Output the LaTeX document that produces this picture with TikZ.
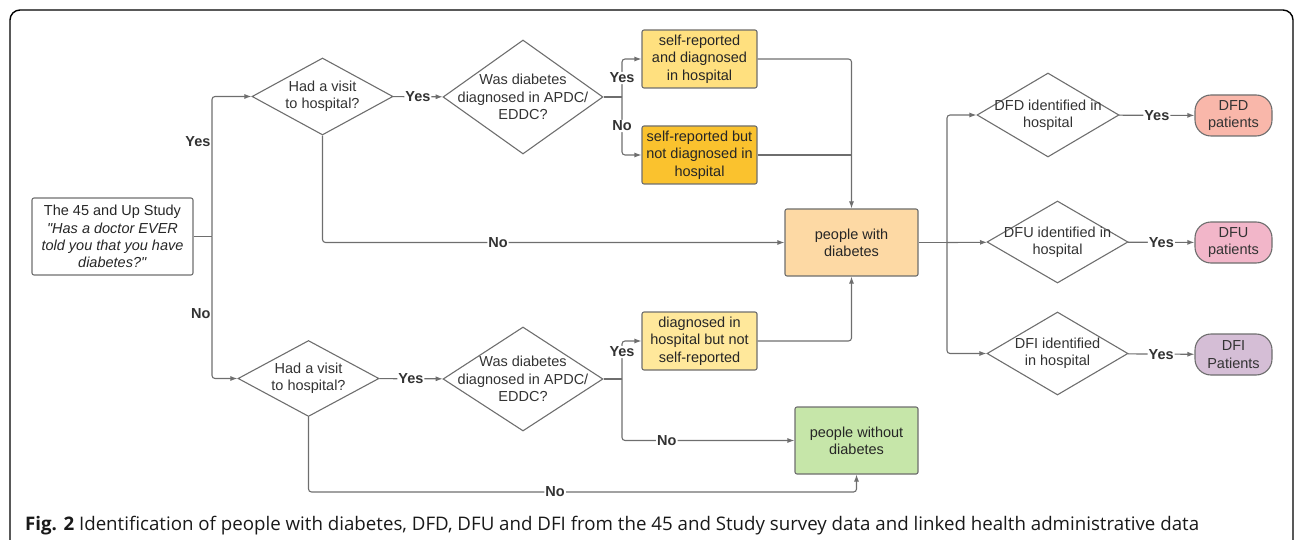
\documentclass[tikz,border=0pt]{standalone}
\usepackage{fontspec}
\setmainfont{Liberation Sans}
\newfontfamily\capfont{Open Sans}
\usetikzlibrary{shapes.geometric, arrows.meta, positioning}

\definecolor{linegray}{HTML}{6E6E6E}
\definecolor{txtgray}{HTML}{333333}
\definecolor{ylwA}{HTML}{FFE07F}
\definecolor{ylwB}{HTML}{FAC22E}
\definecolor{ylwC}{HTML}{FFE89B}
\definecolor{orgA}{HTML}{FDD9A4}
\definecolor{grnA}{HTML}{C6E6A9}
\definecolor{redA}{HTML}{F9B7AA}
\definecolor{pnkA}{HTML}{F2B6C9}
\definecolor{prpA}{HTML}{D5BED6}

\newcommand{\dfont}{\fontsize{14.5}{17.3}\selectfont}

\tikzset{
  box/.style={draw=linegray, line width=1.1pt, rounded corners=2pt, align=center, inner sep=0pt, text=black!85},
  dia/.style={diamond, draw=linegray, line width=1.1pt, inner sep=0pt},
  dtxt/.style={align=center, text=txtgray},
  term/.style={draw=linegray, line width=1.1pt, rounded corners=16pt, align=center, inner sep=0pt,
    minimum width=77, minimum height=41, text=txtgray},
  ln/.style={draw=linegray, line width=1.1pt, rounded corners=3pt},
  arr/.style={ln, -{Latex[length=7pt, width=5pt]}},
  yn/.style={fill=white, inner sep=1pt, font=\dfont\bfseries, text=txtgray}
}

\begin{document}
\begin{tikzpicture}[x=1pt, y=-1pt, font=\dfont]
  \useasboundingbox (0,0) rectangle (1295,540);
  \clip (0,0) rectangle (1295,540);
  \draw[line width=1.4pt, rounded corners=10pt] (10,570) -- (10,10) -- (1293,10) -- (1293,570);

  % start
  \node[box, minimum width=161, minimum height=77] (study) at (112.5,236.5)
    {The 45 and Up Study\\\textit{\textquotedbl Has a doctor EVER}\\\textit{told you that you have}\\\textit{diabetes?\textquotedbl}};

  % upper branch
  \node[dia, minimum width=141, minimum height=77, label={[dtxt]center:Had a visit\\to hospital?}] (visit1) at (322.5,96.5) {};
  \node[dia, minimum width=160, minimum height=114, label={[dtxt]center:Was diabetes\\diagnosed in APDC/\\EDDC?}] (diag1) at (523,97) {};
  \node[box, fill=ylwA, minimum width=115, minimum height=58] (srd) at (699.5,59) {self-reported\\and diagnosed\\in hospital};
  \node[box, fill=ylwB, minimum width=115, minimum height=58] (srn) at (699.5,155) {self-reported but\\not diagnosed in\\hospital};
  \node[box, fill=orgA, minimum width=133, minimum height=67] (pwd) at (851.5,242.5) {people with\\diabetes};

  % lower branch
  \node[dia, minimum width=141, minimum height=76, label={[dtxt]center:Had a visit\\to hospital?}] (visit2) at (308.5,378.5) {};
  \node[dia, minimum width=160, minimum height=104, label={[dtxt]center:Was diabetes\\diagnosed in APDC/\\EDDC?}] (diag2) at (523,379) {};
  \node[box, fill=ylwC, minimum width=115, minimum height=58] (dns) at (699.5,341) {diagnosed in\\hospital but not\\self-reported};
  \node[box, fill=grnA, minimum width=123, minimum height=67] (pwod) at (856.5,440.5) {people without\\diabetes};

  % outcomes
  \node[dia, minimum width=142, minimum height=84, label={[dtxt]center:DFD identified in\\hospital}] (dfd) at (1048,115) {};
  \node[dia, minimum width=141, minimum height=82, label={[dtxt]center:DFU identified in\\hospital}] (dfu) at (1057.5,242) {};
  \node[dia, minimum width=141, minimum height=83, label={[dtxt]center:DFI identified\\in hospital}] (dfi) at (1057.5,353.5) {};
  \node[term, fill=redA] (dfdp) at (1233.5,115.5) {DFD\\patients};
  \node[term, fill=pnkA] (dfup) at (1233.5,242.5) {DFU\\patients};
  \node[term, fill=prpA] (dfip) at (1233.5,354.5) {DFI\\Patients};

  % junctions
  \coordinate (jA) at (212,236.5);
  \coordinate (jB) at (622,97);
  \coordinate (jC) at (851.5,155);
  \coordinate (jD) at (947,242.5);
  \coordinate (jE) at (622,379);
  \coordinate (jF) at (856.5,492);

  \draw[ln] (study) -- (jA);
  \draw[arr] (jA) |- node[yn, left, pos=0.34, fill=none] {Yes} (visit1);
  \draw[arr] (jA) |- node[yn, left, pos=0.27, fill=none] {No} (visit2);

  \draw[arr] (visit1) -- node[yn] {Yes} (diag1);
  \draw[arr] (visit1) |- node[yn, pos=0.69] {No} (pwd);
  \draw[ln] (diag1) -- (jB);
  \draw[arr] (jB) |- node[yn, pos=0.25] {Yes} (srd);
  \draw[arr] (jB) |- node[yn, pos=0.25] {No} (srn);
  \draw[arr] (srd) -| (pwd);
  \draw[ln] (srn) -- (jC);

  \draw[arr] (visit2) -- node[yn] {Yes} (diag2);
  \draw[arr] (visit2) |- node[yn, pos=0.725] {No} (jF) -- (pwod);
  \draw[ln] (diag2) -- (jE);
  \draw[arr] (jE) |- node[yn, pos=0.355] {Yes} (dns);
  \draw[arr] (jE) |- node[yn, pos=0.63] {No} (pwod);
  \draw[arr] (dns) -| (pwd);

  \draw[ln] (pwd) -- (jD);
  \draw[arr] (jD) |- (dfd);
  \draw[arr] (jD) -- (dfu);
  \draw[arr] (jD) |- (dfi);
  \draw[arr] (dfd) -- node[yn] {Yes} (dfdp);
  \draw[arr] (dfu) -- node[yn] {Yes} (dfup);
  \draw[arr] (dfi) -- node[yn] {Yes} (dfip);

  % caption
  \node[anchor=base west, inner sep=0pt, text=black!90, font=\capfont\fontsize{18.7}{22}\selectfont] (cap) at (25,530)
    {\textbf{Fig. 2} Identification of people with diabetes, DFD, DFU and DFI from the 45 and Study survey data and linked health administrative data};
\end{tikzpicture}
\end{document}
